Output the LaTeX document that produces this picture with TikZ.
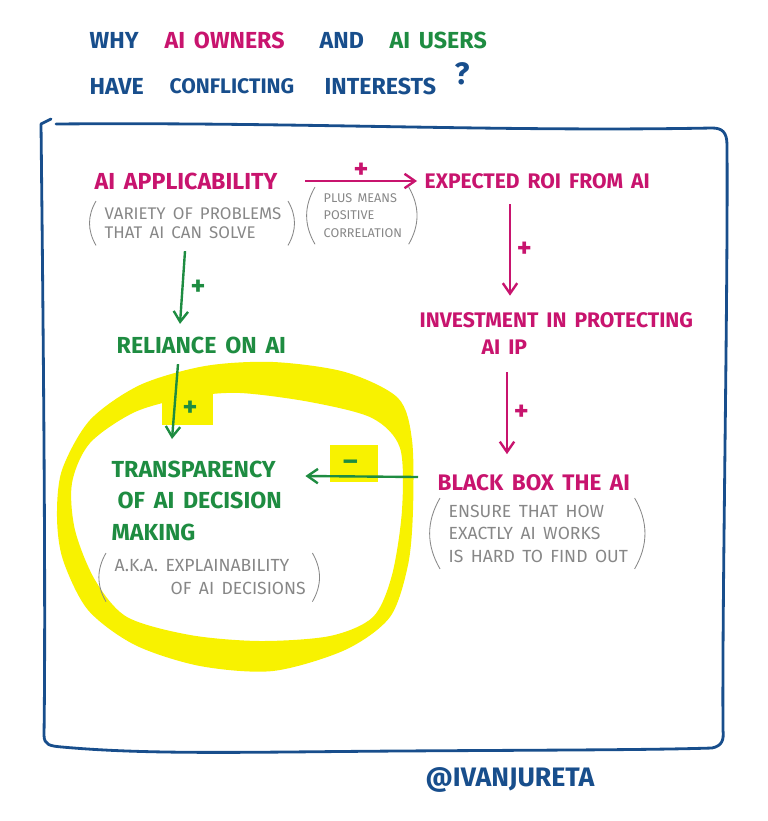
\documentclass[tikz,border=0pt]{standalone}
\usepackage{fontspec}
\setmainfont{Fira Sans}[WordSpace=1.6]
\usetikzlibrary{arrows.meta, positioning}

\definecolor{inkblue}{RGB}{24,78,140}
\definecolor{inkpink}{RGB}{200,20,110}
\definecolor{inkgreen}{RGB}{30,140,65}
\definecolor{inkgray}{RGB}{135,135,135}
\definecolor{marker}{RGB}{248,242,0}

\begin{document}
\begin{tikzpicture}[
        x=0.025cm, y=-0.025cm,
        every node/.style={inner sep=1pt, align=left},
        headline/.style={font=\fontsize{16.5}{20}\selectfont\bfseries, anchor=west},
        cause/.style={font=\fontsize{15}{22.4}\selectfont\bfseries, anchor=west},
        bigcause/.style={cause, font=\fontsize{16.5}{22.4}\selectfont\bfseries},
        remark/.style={text=inkgray, anchor=north west},
        sign/.style={font=\fontsize{20}{22}\selectfont\bfseries},
        arrow/.style={-{Straight Barb[length=2.6mm, width=3.6mm]}, line width=1.7pt},
        paren/.style={draw=inkgray, line width=0.6pt}
        ]

        \useasboundingbox (0,0) rectangle (768,821);

        % Yellow highlight round the transparency block
        \fill[marker, even odd rule]
            plot[smooth cycle] coordinates {(273,362) (345,372) (398,398) (412,440) (413,510) (408,565) (390,617) (345,650) (273,671) (200,666) (135,645) (88,610) (63,560) (57,517) (62,470) (90,420) (140,385) (205,366)}
            plot[smooth cycle] coordinates {(240,393) (310,402) (372,418) (400,448) (402,510) (392,575) (373,617) (330,636) (260,641) (190,635) (127,617) (95,580) (75,530) (72,483) (90,443) (135,412) (190,397)};
        \fill[marker] (162,393) rectangle (213,425);
        \fill[marker] (330,445) rectangle (378,482);

        % Frame
        \draw[inkblue, line width=2pt, line cap=round, line join=round]
            (51,119) -- (41,124) .. controls (43,300) and (46,600) .. (44,735)
            .. controls (44,745) and (50,746) .. (62,747)
            .. controls (150,755) and (250,752) .. (400,751)
            .. controls (550,750) and (650,750) .. (712,748)
            .. controls (722,746) and (724,740) .. (723,730)
            .. controls (722,600) and (728,300) .. (727,145)
            .. controls (727,132) and (722,128) .. (712,128)
            .. controls (500,132) and (300,122) .. (56,124);

        % Title
        \node[headline, text=inkblue] (why) at (88,40) {WHY};
        \node[headline, text=inkpink] (owners) at (163,40) {AI OWNERS};
        \node[headline, text=inkblue] (and) at (318,40) {AND};
        \node[headline, text=inkgreen] (users) at (388,40) {AI USERS};
        \node[headline, text=inkblue] (have) at (88,86) {HAVE};
        \node[headline, text=inkblue, font=\fontsize{15}{20}\selectfont\bfseries] (conflicting) at (168,86) {CONFLICTING};
        \node[headline, text=inkblue] (interests) at (323,86) {INTERESTS};
        \node[text=inkblue, font=\fontsize{22}{24}\selectfont\bfseries] (qmark) at (462,74) {?};

        % Nodes
        \node[bigcause, text=inkpink] (applicability) at (93,181) {AI APPLICABILITY};
        \node[cause, text=inkpink] (roi) at (423,181) {EXPECTED ROI FROM AI};
        \node[cause, text=inkpink] (investment) at (418,320) {INVESTMENT IN PROTECTING};
        \node[cause, text=inkpink] (investIP) at (480,347) {AI IP};
        \node[cause, text=inkpink, font=\fontsize{16}{22.4}\selectfont\bfseries] (blackbox) at (436,483) {BLACK BOX THE AI};
        \node[bigcause, text=inkgreen] (reliance) at (115,345) {RELIANCE ON AI};
        \node[bigcause, text=inkgreen, anchor=north west] (transparency) at (110,459)
            {TRANSPARENCY\\\hspace*{0.15cm}OF AI DECISION\\MAKING};

        % Remarks in brackets
        \node[remark, font=\fontsize{12}{13.5}\selectfont] (variety) at (103,206)
            {VARIETY OF PROBLEMS\\THAT AI CAN SOLVE};
        \node[remark, font=\fontsize{9}{12.4}\selectfont] (plusnote) at (322,192)
            {PLUS MEANS\\POSITIVE\\CORRELATION};
        \node[remark, font=\fontsize{12.5}{16}\selectfont] (ensure) at (447,503)
            {ENSURE THAT HOW\\EXACTLY AI WORKS\\IS HARD TO FIND OUT};
        \node[remark, font=\fontsize{12.5}{16.3}\selectfont] (aka) at (113,558)
            {A.K.A. EXPLAINABILITY\\\hspace*{1.4cm}OF AI DECISIONS};

        \foreach \r in {variety, plusnote, ensure, aka} {
            \draw[paren] ([shift={(-7,-5)}]\r.north west) to[bend right=30] ([shift={(-7,5)}]\r.south west);
            \draw[paren] ([shift={(5,-5)}]\r.north east) to[bend left=30] ([shift={(5,5)}]\r.south east);
        }

        % Arrows
        \draw[arrow, inkpink] ([xshift=0.65cm]applicability.east) -- ([xshift=-0.15cm]roi.west)
            node[midway, above=0pt, sign] (plusA) {+};
        \draw[arrow, inkpink] ([shift={(87,14)}]roi.south west) -- ([shift={(92,-15)}]investment.north west)
            node[midway, right=3pt, sign] (plusB) {+};
        \draw[arrow, inkpink] ([shift={(27,16)}]investIP.south west) -- ([shift={(71,-19)}]blackbox.north west)
            node[midway, right=3pt, sign] (plusC) {+};
        \draw[arrow, inkgreen] ([shift={(92,60)}]applicability.south west) -- ([shift={(65,-11)}]reliance.north west)
            node[midway, right=4pt, sign, text=inkgreen] (plusD) {+};
        \draw[arrow, inkgreen] ([shift={(63,9)}]reliance.south west) -- ([shift={(62,-20)}]transparency.north west)
            node[pos=0.6, right=4pt, sign, text=inkgreen] (plusE) {+};
        \draw[arrow, inkgreen] ([shift={(-18,-6)}]blackbox.west) -- ([shift={(22,17)}]transparency.north east)
            node[pos=0.6, above=2pt, sign, text=inkgreen] (minus) {--};

        % Signature
        \node[text=inkblue, font=\fontsize{19}{22}\selectfont\bfseries] (signature) at (510,780) {@IVANJURETA};
    \end{tikzpicture}
\end{document}
